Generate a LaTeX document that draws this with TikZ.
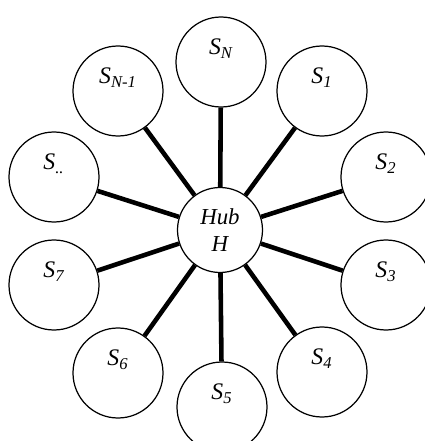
\documentclass[tikz,border=0pt]{standalone}
\usepackage{fontspec}
\setmainfont{Liberation Serif}
\usepackage{tikz}
\usetikzlibrary{positioning}
\tikzset{
  station/.style={circle, draw=black, fill=white, minimum size=1.8cm,
    inner sep=0pt, line width=0.7pt},
  hubnode/.style={circle, draw=black, fill=white, minimum size=1.7cm,
    inner sep=0pt, line width=0.7pt, align=center,
    font=\fontsize{13}{15.5}\selectfont\itshape},
  slabel/.style={yshift=0.26cm, font=\fontsize{13.5}{15}\selectfont\itshape},
  spoke/.style={line width=2.6pt, color=black}
}

\begin{document}
\begin{tikzpicture}
  \clip (0,0) rectangle (8.5,8.82);
  \useasboundingbox (0,0) rectangle (8.5,8.82);

  \node[hubnode] (hub) at (4.40,4.22) {Hub\\H};
  \node[station, label={[slabel]center:S\textsubscript{N}}] (sn) at (4.42,7.58) {};
  \node[station, label={[slabel]center:S\textsubscript{1}}] (s1) at (6.44,7.00) {};
  \node[station, label={[slabel]center:S\textsubscript{2}}] (s2) at (7.72,5.28) {};
  \node[station, label={[slabel]center:S\textsubscript{3}}] (s3) at (7.72,3.12) {};
  \node[station, label={[slabel]center:S\textsubscript{4}}] (s4) at (6.44,1.38) {};
  \node[station, label={[slabel]center:S\textsubscript{5}}] (s5) at (4.44,0.68) {};
  \node[station, label={[slabel]center:S\textsubscript{6}}] (s6) at (2.36,1.36) {};
  \node[station, label={[slabel]center:S\textsubscript{7}}] (s7) at (1.08,3.12) {};
  \node[station, label={[slabel]center:S\textsubscript{..}}] (sdots) at (1.08,5.28) {};
  \node[station, label={[slabel]center:S\textsubscript{N-1}}] (snm) at (2.36,7.00) {};

  \draw[spoke] (hub) -- (sn);
  \draw[spoke] (hub) -- (s1);
  \draw[spoke] (hub) -- (s2);
  \draw[spoke] (hub) -- (s3);
  \draw[spoke] (hub) -- (s4);
  \draw[spoke] (hub) -- (s5);
  \draw[spoke] (hub) -- (s6);
  \draw[spoke] (hub) -- (s7);
  \draw[spoke] (hub) -- (sdots);
  \draw[spoke] (hub) -- (snm);
\end{tikzpicture}
\end{document}
